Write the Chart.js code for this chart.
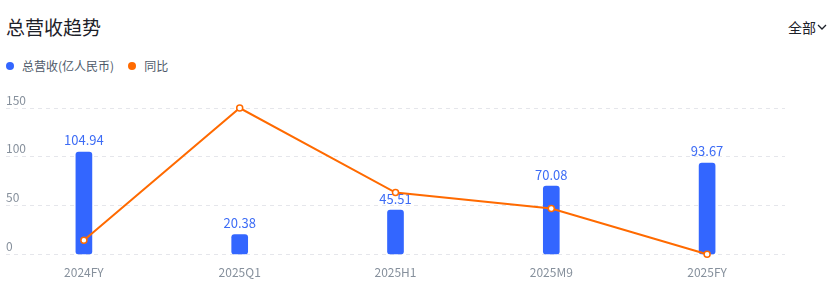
<!DOCTYPE html>
<html>
<head>
<meta charset="utf-8">
<script src="https://cdn.jsdelivr.net/npm/chart.js@4"></script>
<style>
    body { margin: 0; background: #fff; font-family: "Noto Sans CJK SC", "Noto Sans", sans-serif; }
    .wrap { position: relative; width: 835px; height: 292px; }
    .title { position: absolute; left: 6px; top: 14px; font-size: 19px; color: #1d2129; line-height: 26px; }
    .filter { position: absolute; left: 788px; top: 17px; font-size: 14px; color: #1d2129; line-height: 20px; }
    .filter svg { vertical-align: 2px; margin-left: 1px; }
    .legend { position: absolute; left: 6px; top: 58px; font-size: 12px; color: #4e5969; line-height: 16px; display: flex; }
    .legend span.item { display: flex; align-items: center; margin-right: 14px; }
    .legend i { display: inline-block; width: 8px; height: 8px; border-radius: 50%; margin-right: 8px; }
    canvas { position: absolute; left: 0; top: 0; }
</style>
</head>
<body>
<div class="wrap">
    <div class="title">总营收趋势</div>
    <div class="filter">全部<svg width="10" height="7" viewBox="0 0 10 7"><path d="M1 1 L5 5 L9 1" fill="none" stroke="#1d2129" stroke-width="1.3"/></svg></div>
    <div class="legend" id="legend"></div>
    <canvas id="trendChart" width="835" height="292"></canvas>
</div>
<script>
// données
const periods = ['2024FY', '2025Q1', '2025H1', '2025M9', '2025FY'];
const revenue = [104.94, 20.38, 45.51, 70.08, 93.67];
const yoy = [14.7, 150, 63.5, 47.2, 0.3];
const yTicks = [0, 50, 100, 150];

const BLUE = '#3366ff';
const ORANGE = '#ff6a00';

// étiquettes de valeur au-dessus des barres (dessinées avant la ligne)
const barLabels = {
    id: 'barLabels',
    afterDatasetDraw(chart, args) {
        if (args.index !== 0) return;
        const ctx = chart.ctx;
        ctx.save();
        ctx.font = '13px "Noto Sans CJK SC", sans-serif';
        ctx.fillStyle = '#3d6cf5';
        ctx.textAlign = 'center';
        ctx.textBaseline = 'bottom';
        args.meta.data.forEach((bar, i) => {
            ctx.fillText(revenue[i].toFixed(2), bar.x, bar.y - 5);
        });
        ctx.restore();
    }
};

const ctx = document.getElementById('trendChart').getContext('2d');
const chart = new Chart(ctx, {
    data: {
        labels: periods,
        datasets: [{
            type: 'bar',
            label: '总营收(亿人民币)',
            data: revenue,
            backgroundColor: BLUE,
            borderRadius: 3,
            borderSkipped: false,
            barThickness: 16,
            order: 1
        }, {
            type: 'line',
            label: '同比',
            data: yoy,
            borderColor: ORANGE,
            backgroundColor: ORANGE,
            borderWidth: 2,
            tension: 0,
            pointRadius: 3,
            pointBackgroundColor: '#fff',
            pointBorderColor: ORANGE,
            pointBorderWidth: 1.5,
            clip: 8,
            order: 0
        }]
    },
    options: {
        responsive: false,
        animation: false,
        layout: { padding: { top: 108, left: 6, right: 50, bottom: 9 } },
        scales: {
            x: {
                offset: true,
                grid: { display: false },
                border: { display: false },
                ticks: { color: '#86909c', font: { size: 12, family: '"Noto Sans CJK SC", sans-serif' }, padding: 3 }
            },
            y: {
                min: 0,
                max: 150,
                afterBuildTicks(scale) {
                    scale.ticks = yTicks.map(v => ({ value: v }));
                },
                grid: { color: '#e5e6eb', drawTicks: false },
                border: { display: false, dash: [4, 4] },
                ticks: {
                    mirror: true,
                    padding: 0,
                    labelOffset: -8,
                    color: '#86909c',
                    font: { size: 12, family: '"Noto Sans CJK SC", sans-serif' }
                }
            }
        },
        plugins: {
            legend: { display: false },
            tooltip: { enabled: false }
        }
    },
    plugins: [barLabels]
});

// légende HTML construite à partir des jeux de données
const legendEl = document.getElementById('legend');
chart.data.datasets.forEach(ds => {
    const item = document.createElement('span');
    item.className = 'item';
    const dot = document.createElement('i');
    dot.style.background = ds.type === 'line' ? ds.borderColor : ds.backgroundColor;
    item.appendChild(dot);
    item.appendChild(document.createTextNode(ds.label));
    legendEl.appendChild(item);
});
</script>
</body>
</html>
